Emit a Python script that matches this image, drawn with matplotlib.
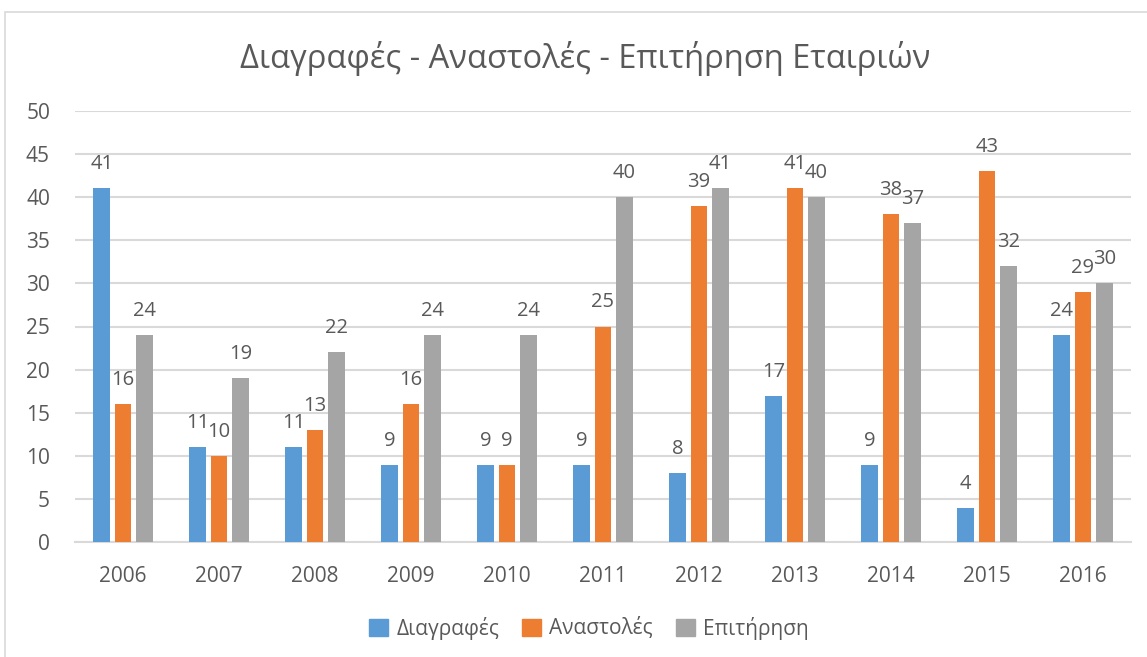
import matplotlib
matplotlib.use("Agg")
import matplotlib.pyplot as plt
import numpy as np
from matplotlib.patches import Rectangle

years = ["2006", "2007", "2008", "2009", "2010", "2011", "2012", "2013", "2014", "2015", "2016"]
diagrafes = [41, 11, 11, 9, 9, 9, 8, 17, 9, 4, 24]
anastoles = [16, 10, 13, 16, 9, 25, 39, 41, 38, 43, 29]
epitirisi = [24, 19, 22, 24, 24, 40, 41, 40, 37, 32, 30]
series_names = ["Διαγραφές", "Αναστολές", "Επιτήρηση"]
colors = ["#5B9BD5", "#ED7D31", "#A5A5A5"]
title = "Διαγραφές - Αναστολές - Επιτήρηση Εταιριών"

W, H, DPI = 1147, 657, 100
plt.rcParams['font.family'] = ['Open Sans', 'DejaVu Sans']
txt = "#595959"
grid = "#D9D9D9"

fig = plt.figure(figsize=(W / DPI, H / DPI), dpi=DPI)
ax = fig.add_axes([75 / W, 1 - 542.3 / H, (1131 - 75) / W, (542.3 - 110.7) / H])

x = np.arange(len(years))
step = 0.222
bw = 0.174
for i, (vals, c, name) in enumerate(zip([diagrafes, anastoles, epitirisi], colors, series_names)):
    pos = x + (i - 1) * step
    ax.bar(pos, vals, width=bw, color=c, label=name, zorder=3)
    for px, v in zip(pos, vals):
        ax.annotate(str(v), (px, v), xytext=(0, 13.7), textcoords="offset points",
                    ha="center", va="baseline", fontsize=14.5, color=txt, zorder=4)

ax.set_xlim(-0.5, len(years) - 0.5)
ax.set_ylim(0, 50)
ax.set_yticks(range(0, 51, 5))
ax.set_xticks(x)
ax.set_xticklabels(years)
ax.yaxis.grid(True, color=grid, linewidth=1.5, zorder=0)
ax.set_axisbelow(True)
for s in ["top", "right", "left"]:
    ax.spines[s].set_visible(False)
ax.spines["bottom"].set_color(grid)
ax.spines["bottom"].set_linewidth(1.5)
ax.tick_params(axis="both", length=0, labelsize=15, colors=txt)
ax.tick_params(axis="y", pad=18)
ax.tick_params(axis="x", pad=17)

fig.text(585 / W, 1 - 58 / H, title, ha="center", va="center", fontsize=23.5, color=txt)

handles = [Rectangle((0, 0), 1, 1, color=c) for c in colors]
fig.legend(handles, series_names, loc="center", bbox_to_anchor=(589 / W, 1 - 628 / H),
           ncol=3, frameon=False, fontsize=15, labelcolor=txt,
           handlelength=0.9, handleheight=0.9, handletextpad=0.4, columnspacing=1.1)

# chart border (top and left edges visible)
fig.patches.append(Rectangle((5 / W, -0.1), 1.2, 1 - 12 / H + 0.1, transform=fig.transFigure,
                             fill=False, edgecolor="#D9D9D9", linewidth=1.2))

fig.savefig("out.png", dpi=DPI)
